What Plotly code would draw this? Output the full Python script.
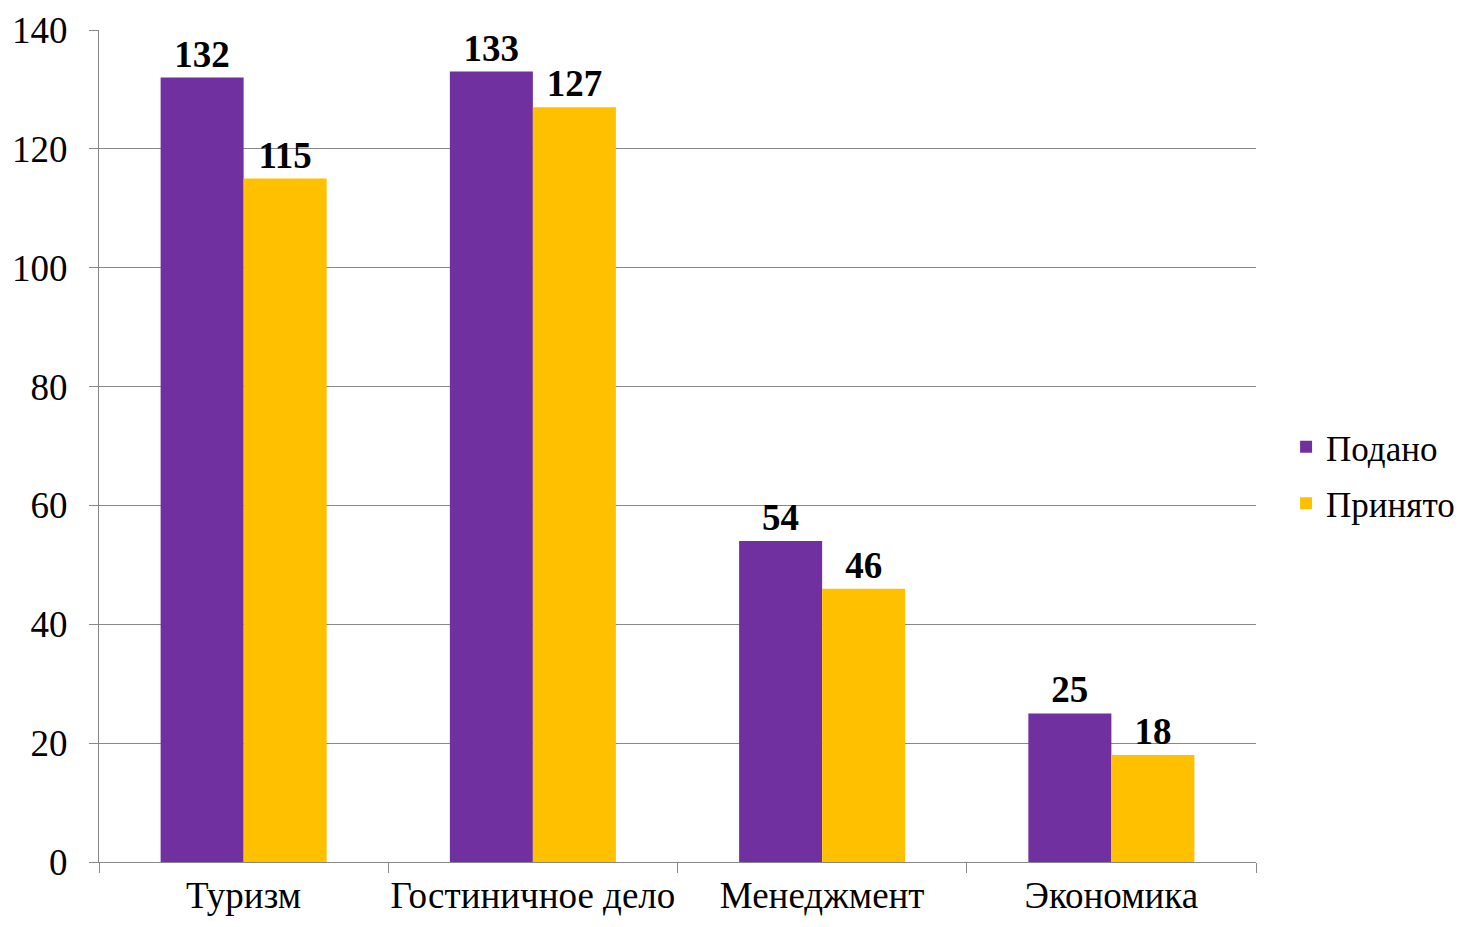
import plotly.graph_objects as go

categories = ["Туризм", "Гостиничное дело", "Менеджмент", "Экономика"]
submitted = [132, 133, 54, 25]
accepted = [115, 127, 46, 18]
series_names = ["Подано", "Принято"]
y_ticks = [0, 20, 40, 60, 80, 100, 120, 140]

FONT = "Liberation Serif, Times New Roman, serif"
GRID = "#878787"
FS = 37

fig = go.Figure()
fig.add_trace(go.Bar(
    x=categories, y=submitted, name=series_names[0], legendgroup="a",
    marker=dict(color="#7030A0", line=dict(width=0)),
    text=[f"<b>{v}</b>" for v in submitted], textposition="outside",
    textfont=dict(family=FONT, size=FS, color="black"), cliponaxis=False,
))
fig.add_trace(go.Bar(
    x=categories, y=accepted, name=series_names[1], legendgroup="b",
    marker=dict(color="#FFC000", line=dict(width=0)),
    text=[f"<b>{v}</b>" for v in accepted], textposition="outside",
    textfont=dict(family=FONT, size=FS, color="black"), cliponaxis=False,
))

fig.update_layout(
    width=1450, height=911,
    margin=dict(l=91, r=202, t=22, b=57, autoexpand=False),
    paper_bgcolor="white", plot_bgcolor="white",
    barmode="group", bargap=0.426, bargroupgap=0,
    font=dict(family=FONT, size=FS, color="black"),
    showlegend=True,
    legend=dict(x=1.026, y=0.465, xanchor="left", yanchor="middle",
                font=dict(family=FONT, size=35, color="black"),
                tracegroupgap=8),
)
fig.update_yaxes(
    range=[0, 140], tickvals=y_ticks, showgrid=True, gridcolor=GRID, gridwidth=1,
    showline=True, linecolor=GRID, linewidth=1, ticks="outside", ticklen=9,
    tickcolor=GRID, tickfont=dict(family=FONT, size=FS), zeroline=False,
    automargin=False, ticklabelstandoff=14, ticklabeloverflow="allow",
)
fig.update_xaxes(
    showline=True, linecolor=GRID, linewidth=1, ticks="outside", ticklen=10,
    tickcolor=GRID, tickson="boundaries", tickfont=dict(family=FONT, size=FS),
    showgrid=False, automargin=False, ticklabelstandoff=1, tickangle=0,
    ticklabeloverflow="allow",
)

fig.write_html("out.html")
